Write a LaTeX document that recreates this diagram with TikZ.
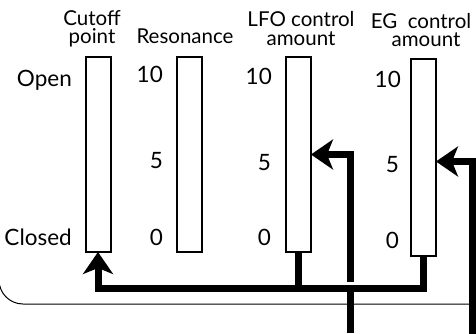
\documentclass[tikz,border=0pt]{standalone}
\usepackage{fontspec}
\setmainfont{Lato}
\usetikzlibrary{arrows.meta}
\begin{document}
\begin{tikzpicture}[x=1pt,y=-1pt,
  slider/.style={draw, line width=2pt, minimum width=25pt, inner sep=0pt, outer sep=0pt},
  head/.style={font=\fontsize{20.5}{18.5}\selectfont, align=center, anchor=base, inner sep=0pt},
  scalelab/.style={font=\fontsize{22.5}{22.5}\selectfont, anchor=base east, inner sep=0pt},
  bus/.style={line width=7pt, line join=miter},
  tip/.style={-{Stealth[length=22pt, width=30pt, inset=6pt]}},
  frame/.style={line width=1pt}]
\useasboundingbox (0,0) rectangle (476,334);
% frame
\coordinate (fl) at (-1,200);
\coordinate (fr) at (472,304);
\draw[frame, rounded corners=24pt] (fl) |- (fr);
% sliders
\node[slider, minimum height=195pt] (cut) at (98,154.5) {};
\node[slider, minimum height=195pt] (res) at (189,154.5) {};
\node[slider, minimum height=195pt] (lfo) at (298.5,154.5) {};
\node[slider, minimum height=197pt] (eg) at (423.5,157.5) {};
% headings
\node[head] (h1) at (92,44) {Cutoff\\point};
\node[head] (h2) at (185,44) {Resonance};
\node[head] (h3) at (301,45.5) {LFO control\\amount};
\node[head] (h4) at (421,47) {EG\ \ control\\\hspace*{10pt}amount};
% scale labels
\node[scalelab] (open) at (72,87) {Open};
\node[scalelab] (closed) at (72,245) {Closed};
\node[scalelab] (r10) at (163,83) {10};
\node[scalelab] (r5) at (163,168) {5};
\node[scalelab] (r0) at (163,245) {0};
\node[scalelab] (l10) at (272,85) {10};
\node[scalelab] (l5) at (271,170) {5};
\node[scalelab] (l0) at (271,245) {0};
\node[scalelab] (e10) at (401,88) {10};
\node[scalelab] (e5) at (399,172) {5};
\node[scalelab] (e0) at (399,248) {0};
% connectors
\coordinate (bus) at (350,288);
\coordinate (out) at (350,333);
\coordinate (lfoin) at (350,282);
\coordinate (egin) at (472,340);
\draw[bus, tip] (eg.south) |- (bus) -| (cut.south);
\draw[bus] (lfo.south) -- (lfo.south |- bus);
\draw[bus] (bus) -- (out);
\draw[bus, tip] (lfoin) |- (lfo.east);
\draw[bus, tip] (egin) |- ([yshift=-4pt]eg.east);
\end{tikzpicture}
\end{document}
